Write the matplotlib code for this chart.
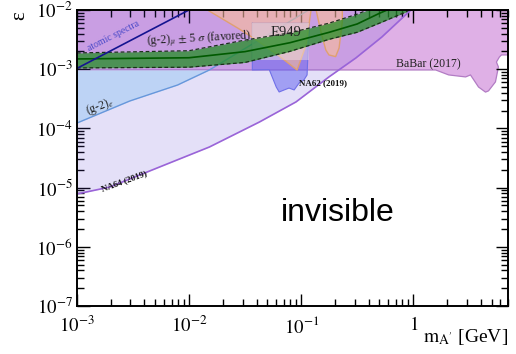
import numpy as np
import matplotlib
matplotlib.use('Agg')
import matplotlib.pyplot as plt
import matplotlib.ticker as mt

plt.rcParams['font.family'] = ['Liberation Serif', 'DejaVu Serif']
plt.rcParams['mathtext.fontset'] = 'stix'

# NA64 (2019) lower bound
na64_m = [1e-3, 1.96e-3, 5.47e-3, 0.0152, 0.0424, 0.09, 0.177, 0.308, 0.525, 0.91, 1.3]
na64_eps = [7.8e-6, 1.02e-5, 2.23e-5, 4.85e-5, 1.28e-4, 2.8e-4, 7.4e-4, 1.55e-3, 3.5e-3, 9.25e-3, 1.6e-2]

# BaBar (2017) lower edge
babar_m = [1e-3, 1.585, 2.07, 2.93, 3.24, 3.82, 4.41, 4.69, 5.41, 5.75, 5.52, 5.87, 6.12, 7.5]
babar_eps = [9.7e-4, 9.7e-4, 8.0e-4, 7.4e-4, 8.0e-4, 5.0e-4, 4.1e-4, 4.3e-4, 6.1e-4, 1.09e-3, 1.32e-3, 1.61e-3, 1.74e-3, 1.74e-3]

# (g-2)_e
g2e_m = [1e-3, 2.96e-3, 7.9e-3, 0.0152, 0.117]
g2e_eps = [1.23e-4, 2.9e-4, 5.4e-4, 9.7e-4, 1e-2]

# atomic spectra
atom_m = [1e-3, 1e-2]
atom_eps = [1.03e-3, 1e-2]

# E949, two lobes
e949_m1 = [0.0146, 0.0281, 0.0424, 0.0637, 0.092, 0.1107, 0.1227]
e949_eps1 = [1e-2, 4.77e-3, 2.88e-3, 1.67e-3, 9.7e-4, 2.57e-3, 1e-2]
e949_m2 = [0.136, 0.150, 0.166, 0.177, 0.203, 0.218, 0.233, 0.233]
e949_eps2 = [1e-2, 4.3e-3, 2.11e-3, 1.74e-3, 1.63e-3, 2.28e-3, 6.3e-3, 1e-2]

# NA62 (2019)
na62_m = [0.0367, 0.0367, 0.052, 0.0552, 0.06, 0.0637, 0.0706, 0.078, 0.0867, 0.096, 0.106, 0.113, 0.118]
na62_eps = [6.0e-3, 9.7e-4, 9.8e-4, 7.4e-4, 5.0e-4, 4.12e-4, 4.46e-4, 4.8e-4, 4.46e-4, 5.85e-4, 6.6e-4, 7.98e-4, 6.0e-3]

# (g-2)_mu +- 5 sigma band
gm_m = [1e-3, 0.01, 0.0316, 0.0794, 0.178, 0.316, 0.5, 0.89]
gm_hi = [1.88e-3, 2.05e-3, 3.1e-3, 4.1e-3, 6.0e-3, 8.5e-3, 1.2e-2, 1.9e-2]
gm_lo = [1.05e-3, 1.08e-3, 1.3e-3, 2.0e-3, 3.2e-3, 4.2e-3, 6.0e-3, 9.5e-3]
gm_mid = [1.49e-3, 1.56e-3, 1.98e-3, 2.8e-3, 4.2e-3, 5.8e-3, 8.8e-3, 1.4e-2]

xticks = [1e-3, 1e-2, 1e-1, 1]
xlabels = ['$10^{-3}$', '$10^{-2}$', '$10^{-1}$', '$1$']
yticks = [1e-7, 1e-6, 1e-5, 1e-4, 1e-3, 1e-2]
ylabels = ['$10^{-7}$', '$10^{-6}$', '$10^{-5}$', '$10^{-4}$', '$10^{-3}$', '$10^{-2}$']

fig = plt.figure(figsize=(5.16, 3.54), dpi=100)
ax = fig.add_axes([0.149, 0.1356, 0.8355, 0.8362])
ax.set_xscale('log')
ax.set_yscale('log')
ax.set_xlim(1e-3, 7)
ax.set_ylim(1e-7, 1e-2)

# BaBar
ax.fill(babar_m + [7.5, 8e-4, 8e-4], babar_eps + [0.02, 0.02, 9.7e-4], color='#dfb0e6', lw=0, zorder=1)
ax.plot(babar_m, babar_eps, color='#b27cc4', lw=0.9, zorder=1.5)

# (g-2)_e
ax.fill_between(g2e_m[:4], g2e_eps[:4], 9.7e-4, color='#d0f0fb', lw=0, zorder=2)
ax.plot(g2e_m, g2e_eps, color='#6aa8dc', lw=1.0, zorder=2.5)

# NA64 overlay
ax.fill_between(na64_m, na64_eps, 0.05, color='#5a40d8', alpha=0.16, lw=0, zorder=3)
ax.plot(na64_m, na64_eps, color='#9a64d8', lw=1.2, zorder=8)

# NA62
ax.fill(na62_m, na62_eps, color='#6060f0', alpha=0.5, lw=0, zorder=4)
ax.plot(na62_m + [na62_m[0]], na62_eps + [na62_eps[0]], color='#7070e8', lw=0.8, zorder=4.5)

# E949
ax.fill(e949_m1, e949_eps1, color='#ffc090', alpha=0.55, lw=0, zorder=5)
ax.plot(e949_m1, e949_eps1, color='#e0a070', lw=1.0, zorder=5.5)
ax.fill(e949_m2, e949_eps2, color='#ffc090', alpha=0.55, lw=0, zorder=5)
ax.plot(e949_m2, e949_eps2, color='#e0a070', lw=1.0, zorder=5.5)
ax.fill([0.0367, 0.118, 0.118, 0.0367], [1.43e-3, 1.43e-3, 6e-3, 6e-3], color='#f4e4e4', alpha=0.45, lw=0, zorder=5.6)

# (g-2)_mu band
ax.fill_between(gm_m, gm_lo, gm_hi, color='#1e8c1e', alpha=0.72, lw=0, zorder=6)
ax.plot(gm_m, gm_hi, color='#1a301a', lw=0.9, ls=(0, (3, 2)), zorder=6.5)
ax.plot(gm_m, gm_lo, color='#1a301a', lw=0.9, ls=(0, (3, 2)), zorder=6.5)
ax.plot(gm_m, gm_mid, color='#005a00', lw=1.2, zorder=6.6)

# atomic spectra
ax.plot(atom_m, atom_eps, color='#141490', lw=1.2, zorder=7)

ax.text(2.1e-3, 3.6e-3, 'atomic spectra', color='#4a4ac8', fontsize=7, rotation=27,
        ha='center', va='center', zorder=9)
ax.text(0.0124, 3.3e-3, r'(g-2)$_{\mu}$ $\pm$ 5 $\sigma$ (favored)', fontsize=8.5, rotation=3,
        ha='center', va='center', color='#222222', zorder=9)
ax.text(0.0736, 4.1e-3, 'E949', fontsize=10.5, ha='center', va='center', color='#222222', zorder=9)
ax.text(1.35, 1.22e-3, 'BaBar (2017)', fontsize=8.5, ha='center', va='center', color='#222222', zorder=9)
ax.text(0.096, 5.85e-4, 'NA62 (2019)', fontsize=6.5, fontweight='bold', ha='left', va='center',
        color='#111111', zorder=9)
ax.text(2.62e-3, 1.29e-5, 'NA64 (2019)', fontsize=6.5, fontweight='bold', rotation=20,
        ha='center', va='center', color='#111111', zorder=9)
ax.text(1.6e-3, 2.3e-4, r'(g-2)$_{e}$', fontsize=8.5, rotation=20, ha='center', va='center',
        color='#222222', zorder=9)
ax.text(0.21, 3.7e-6, 'invisible', fontsize=23, family=['Liberation Sans', 'DejaVu Sans'],
        ha='center', va='center', color='black', zorder=9)

ax.xaxis.set_major_locator(mt.FixedLocator(xticks))
ax.xaxis.set_major_formatter(mt.FixedFormatter(xlabels))
ax.yaxis.set_major_locator(mt.FixedLocator(yticks))
ax.yaxis.set_major_formatter(mt.FixedFormatter(ylabels))
ax.xaxis.set_minor_locator(mt.LogLocator(base=10, subs=np.arange(2, 10), numticks=20))
ax.yaxis.set_minor_locator(mt.LogLocator(base=10, subs=np.arange(2, 10), numticks=20))
ax.xaxis.set_minor_formatter(mt.NullFormatter())
ax.yaxis.set_minor_formatter(mt.NullFormatter())
ax.tick_params(which='both', direction='in', top=True, right=True, width=1.0, labelsize=13.5)
ax.tick_params(which='major', length=9)
ax.tick_params(which='minor', length=5)
ax.tick_params(axis='x', pad=7)
ax.tick_params(axis='y', pad=3)
for s in ax.spines.values():
    s.set_linewidth(1.4)
    s.set_zorder(10)

fig.text(0.039, 0.955, 'ε', rotation=90, fontsize=15, ha='center', va='center')
fig.text(0.984, 0.048, r'$\mathrm{m}_{\mathrm{A^{\prime}}}$ [GeV]', fontsize=14, ha='right', va='center')

fig.savefig('out.png', dpi=100)
